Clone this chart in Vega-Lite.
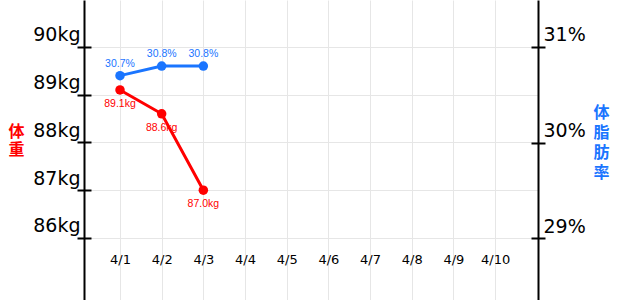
{
  "$schema": "https://vega.github.io/schema/vega-lite/v6.json",
  "width": 454,
  "height": 300,
  "autosize": {"type": "none"},
  "padding": {"left": 84, "right": 82, "top": 0, "bottom": 0},
  "config": {
    "view": {"stroke": null},
    "axis": {"domainColor": "#000000", "tickColor": "#000000", "gridColor": "#e6e6e6", "labelColor": "#000000"}
  },
  "data": {
    "values": [
      {"day": 1, "weight": 89.1, "fat": 30.7, "wlabel": "89.1kg", "flabel": "30.7%"},
      {"day": 2, "weight": 88.6, "fat": 30.8, "wlabel": "88.6kg", "flabel": "30.8%"},
      {"day": 3, "weight": 87.0, "fat": 30.8, "wlabel": "87.0kg", "flabel": "30.8%"}
    ]
  },
  "encoding": {
    "x": {
      "field": "day",
      "type": "quantitative",
      "scale": {"domain": [0.136, 11.03], "nice": false, "zero": false},
      "axis": {
        "orient": "bottom",
        "offset": -41,
        "values": [1, 2, 3, 4, 5, 6, 7, 8, 9, 10],
        "labelExpr": "'4/' + datum.value",
        "domain": false,
        "ticks": false,
        "labelPadding": 0,
        "labelBaseline": "middle",
        "labelFont": "DejaVu Sans",
        "labelFontSize": 13,
        "labelFlush": false,
        "grid": true,
        "gridColor": "#e6e6e6",
        "gridWidth": 1,
        "title": null
      }
    }
  },
  "layer": [
    {
      "mark": {"type": "line", "color": "#ff0000", "strokeWidth": 3, "point": {"filled": true, "size": 90, "color": "#ff0000"}},
      "encoding": {
        "y": {
          "field": "weight",
          "type": "quantitative",
          "scale": {"domain": [84.70, 90.984], "nice": false, "zero": false},
          "axis": {
            "orient": "left",
            "offset": -7,
            "values": [86, 87, 88, 89, 90],
            "labelExpr": "datum.value + 'kg'",
            "tickSize": 14,
            "tickWidth": 2,
            "domain": false,
            "grid": true,
            "gridColor": "#e6e6e6",
            "labelPadding": -3,
            "labelBaseline": "alphabetic",
            "labelOffset": -6,
            "labelFont": "DejaVu Sans",
            "labelFontSize": 19,
            "title": null
          }
        }
      }
    },
    {
      "mark": {"type": "text", "color": "#ff0000", "dy": 14, "font": "Liberation Sans", "fontSize": 10.5, "baseline": "middle"},
      "encoding": {
        "y": {
          "field": "weight",
          "type": "quantitative",
          "scale": {"domain": [84.70, 90.984], "nice": false, "zero": false},
          "axis": {
            "orient": "left",
            "ticks": false,
            "labels": false,
            "grid": false,
            "domain": true,
            "domainWidth": 2,
            "title": ["体", "重"],
            "titleAngle": 0,
            "titleX": -68,
            "titleY": 131,
            "titleAlign": "center",
            "titleBaseline": "middle",
            "titleColor": "#ff0000",
            "titleFont": "Noto Sans CJK JP",
            "titleFontSize": 16,
            "titleFontWeight": "bold",
            "titleLineHeight": 18
          }
        },
        "text": {"field": "wlabel"}
      }
    },
    {
      "mark": {"type": "line", "color": "#1a75ff", "strokeWidth": 3, "point": {"filled": true, "size": 90, "color": "#1a75ff"}},
      "encoding": {
        "y": {
          "field": "fat",
          "type": "quantitative",
          "scale": {"domain": [28.351, 31.492], "nice": false, "zero": false},
          "axis": {
            "orient": "right",
            "offset": -7,
            "values": [29, 30, 31],
            "labelExpr": "datum.value + '%'",
            "tickSize": 14,
            "tickWidth": 2,
            "domain": false,
            "grid": false,
            "labelPadding": -2,
            "labelBaseline": "alphabetic",
            "labelOffset": -6,
            "labelFont": "DejaVu Sans",
            "labelFontSize": 19,
            "title": null
          }
        }
      }
    },
    {
      "mark": {"type": "text", "color": "#1a75ff", "dy": -12, "font": "Liberation Sans", "fontSize": 10.5, "baseline": "middle"},
      "encoding": {
        "y": {
          "field": "fat",
          "type": "quantitative",
          "scale": {"domain": [28.351, 31.492], "nice": false, "zero": false},
          "axis": {
            "orient": "right",
            "ticks": false,
            "labels": false,
            "grid": false,
            "domain": true,
            "domainWidth": 2,
            "title": ["体", "脂", "肪", "率"],
            "titleAngle": 0,
            "titleX": 63,
            "titleY": 112,
            "titleAlign": "center",
            "titleBaseline": "middle",
            "titleColor": "#1a75ff",
            "titleFont": "Noto Sans CJK JP",
            "titleFontSize": 16,
            "titleFontWeight": "bold",
            "titleLineHeight": 20
          }
        },
        "text": {"field": "flabel"}
      }
    }
  ],
  "resolve": {"scale": {"y": "independent"}}
}
